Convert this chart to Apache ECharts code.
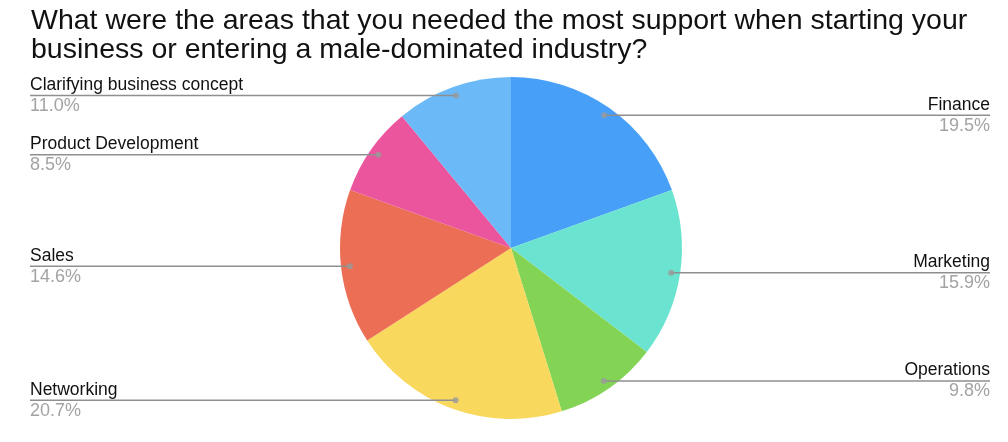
<!DOCTYPE html>
<html>
<head>
<meta charset="utf-8">
<script src="https://cdn.jsdelivr.net/npm/echarts@6/dist/echarts.min.js"></script>
<style>
  html, body { margin: 0; padding: 0; background: #fff; }
  #chart { width: 1008px; height: 442px; }
</style>
</head>
<body>
<div id="chart"></div>
<script>
// Survey answers, clockwise from the top of the pie
const categories = ['Finance', 'Marketing', 'Operations', 'Networking', 'Sales', 'Product Development', 'Clarifying business concept'];
const shares = [19.5, 15.9, 9.8, 20.7, 14.6, 8.5, 11.0];
const sliceColors = ['#479ff8', '#6be3d1', '#83d454', '#f9d85e', '#ec6e55', '#ea559e', '#6bbaf7'];
const titleText = 'What were the areas that you needed the most support when starting your\nbusiness or entering a male-dominated industry?';

const FONT = '"Liberation Sans", Arial, Helvetica, sans-serif';
const CENTER = [511, 248];
const RADIUS = 171;
const DOT_RATIO = 0.948;          // leader lines start this far out in each slice
const LEFT_EDGE = 30;
const RIGHT_EDGE = 990;

const pieData = categories.map((name, i) => ({ name, value: shares[i], itemStyle: { color: sliceColors[i] } }));

// angle (in percent of the circle) of each slice's middle, for the leader dots
const total = shares.reduce((a, b) => a + b, 0);
let acc = 0;
const dotData = shares.map(v => {
  const mid = acc + v / 2;
  acc += v;
  return [DOT_RATIO, mid / total * 100];
});

const chart = echarts.init(document.getElementById('chart'), null, { renderer: 'canvas' });

chart.setOption({
  animation: false,
  backgroundColor: '#ffffff',
  textStyle: { fontFamily: FONT },
  title: {
    text: titleText,
    left: 26,
    top: 2,
    textStyle: { fontFamily: FONT, fontSize: 28.5, fontWeight: 'normal', color: '#111', lineHeight: 28.5 }
  },
  polar: { center: CENTER, radius: RADIUS },
  angleAxis: { type: 'value', min: 0, max: 100, startAngle: 90, clockwise: true, show: false },
  radiusAxis: { type: 'value', min: 0, max: 1, show: false },
  series: [
    {
      type: 'pie',
      center: CENTER,
      radius: RADIUS,
      startAngle: 90,
      clockwise: true,
      silent: true,
      label: { show: false },
      labelLine: { show: false },
      itemStyle: { borderWidth: 0 },
      data: pieData
    },
    {
      // transparent twin pie that carries the labels and leader lines
      type: 'pie',
      center: CENTER,
      radius: RADIUS * DOT_RATIO,
      startAngle: 90,
      clockwise: true,
      silent: true,
      z: 3,
      itemStyle: { color: 'rgba(0,0,0,0)' },
      data: categories.map((name, i) => ({ name, value: shares[i] })),
      label: {
        show: true,
        position: 'outside',
        formatter: p => '{n|' + p.name + '}\n{p|' + p.value.toFixed(1) + '%}',
        rich: {
          n: { fontFamily: FONT, fontSize: 17.5, color: '#111', lineHeight: 21 },
          p: { fontFamily: FONT, fontSize: 18, color: '#a3a3a3', lineHeight: 21 }
        }
      },
      labelLine: { show: true, length: 6, length2: 10, lineStyle: { color: '#8f8f8f', width: 1.5 } },
      labelLayout: params => {
        const pts = params.labelLinePoints;
        const x0 = pts[0][0], y0 = pts[0][1];
        const right = pts[pts.length - 1][0] > x0;
        const edge = right ? RIGHT_EDGE : LEFT_EDGE;
        return {
          x: edge,
          y: y0,
          align: right ? 'right' : 'left',
          verticalAlign: 'middle',
          labelLinePoints: [[x0, y0], [edge, y0], [edge, y0]]
        };
      }
    },
    {
      type: 'scatter',
      coordinateSystem: 'polar',
      symbol: 'circle',
      symbolSize: 6,
      silent: true,
      z: 4,
      itemStyle: { color: '#9a9a9a' },
      data: dotData
    }
  ]
});
</script>
</body>
</html>
